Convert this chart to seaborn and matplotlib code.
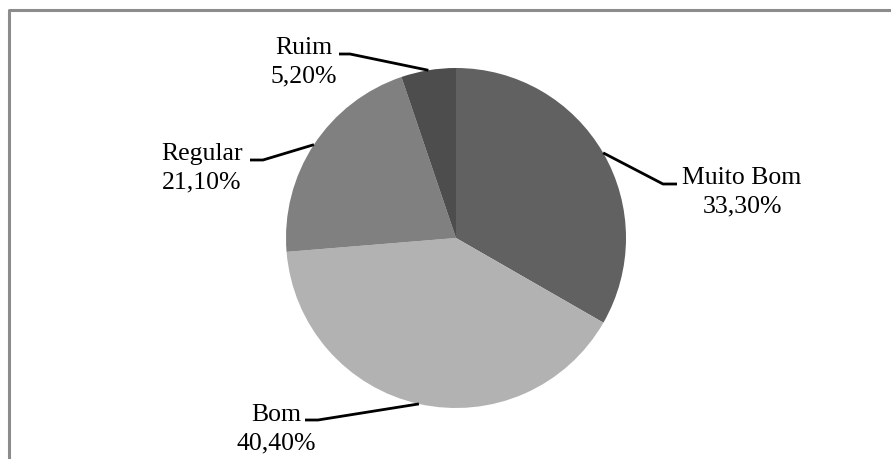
import matplotlib
matplotlib.use("Agg")
import matplotlib.pyplot as plt
import seaborn as sns
import numpy as np

# ---- data ----
categories = ["Muito Bom", "Bom", "Regular", "Ruim"]
values = [33.3, 40.4, 21.1, 5.2]
value_labels = ["33,30%", "40,40%", "21,10%", "5,20%"]
colors = ["#616161", "#b2b2b2", "#808080", "#4d4d4d"]

sns.set_theme(style="white")
plt.rcParams["font.family"] = ["Liberation Serif", "DejaVu Serif"]

W, H = 891, 459
fig = plt.figure(figsize=(W / 100, H / 100), dpi=100)
ax = fig.add_axes([0, 0, 1, 1])

cx, cy, r = 456, 238, 170
# y axis is inverted below, so counterclockwise in data = clockwise on screen
wedges, _ = ax.pie(values, colors=colors, startangle=-90, counterclock=True,
                   center=(cx, cy), radius=r, frame=True,
                   wedgeprops=dict(linewidth=0))
ax.set_xlim(0, W)
ax.set_ylim(H, 0)
ax.set_aspect("auto")
ax.set_axis_off()

# label layout: elbow point, horizontal end, text center
layout = {
    "Muito Bom": dict(elbow=(663, 184), end=(677, 184), text=(742, 192)),
    "Bom": dict(elbow=(318, 420), end=(305, 420), text=(276, 429)),
    "Regular": dict(elbow=(263, 160), end=(250, 160), text=(202, 168)),
    "Ruim": dict(elbow=(350, 54), end=(339, 54), text=(304, 62)),
}

for w, cat, lab in zip(wedges, categories, value_labels):
    mid = np.deg2rad((w.theta1 + w.theta2) / 2)
    px = cx + r * np.cos(mid)
    py = cy + r * np.sin(mid)
    L = layout[cat]
    ax.plot([px, L["elbow"][0], L["end"][0]], [py, L["elbow"][1], L["end"][1]],
            color="black", lw=2, solid_capstyle="butt")
    ax.text(L["text"][0], L["text"][1], f"{cat}\n{lab}", ha="center", va="center",
            fontsize=18.5, linespacing=1.38, color="black")

# outer border (gray)
ax.plot([9, 9, W], [H, 10, 10], color="#8c8c8c", lw=2.2, solid_capstyle="butt")

fig.savefig("out.png", dpi=100, facecolor="white")
